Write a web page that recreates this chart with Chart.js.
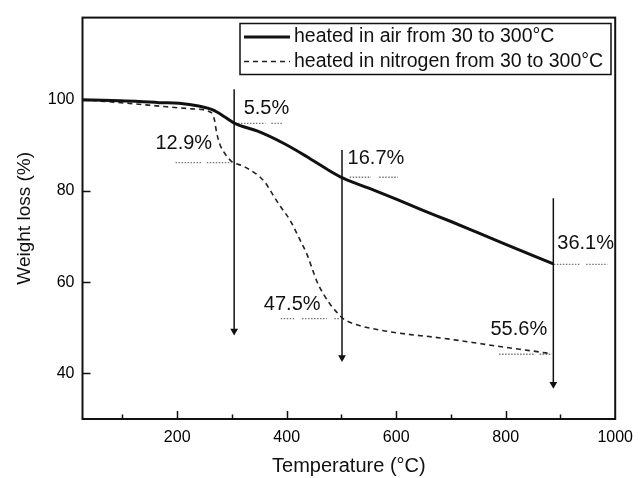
<!DOCTYPE html>
<html>
<head>
<meta charset="utf-8">
<script src="https://cdn.jsdelivr.net/npm/chart.js@4.4.1/dist/chart.umd.min.js"></script>
<style>
  html, body { margin: 0; padding: 0; background: #fff; }
  #wrap { width: 642px; height: 478px; }
</style>
</head>
<body>
<div id="wrap"><canvas id="chart" width="642" height="478"></canvas></div>
<script>
const airTemp = [27, 80, 130, 167, 203, 239, 266, 287, 305, 347, 395, 437, 473, 503, 550, 600, 650, 700, 750, 800, 850, 887];
const airWeight = [100, 99.8, 99.6, 99.35, 99.2, 98.6, 97.7, 96.2, 94.8, 93.1, 90.4, 87.5, 84.8, 82.8, 80.6, 78.2, 75.7, 73.3, 70.8, 68.3, 65.8, 64.0];

const n2Temp = [27, 80, 130, 167, 227, 262, 268, 272, 278, 287, 299, 323, 359, 371, 385, 407, 422, 437, 447, 455, 467, 479, 490, 503, 530, 575, 620, 665, 710, 755, 800, 850, 884];
const n2Weight = [100, 99.5, 99.0, 98.6, 98.0, 97.2, 95.6, 92.8, 90.2, 88.2, 86.5, 85.3, 82.1, 79.9, 77.2, 73.4, 69.8, 66.1, 62.8, 60.2, 57.4, 55.2, 53.6, 52.0, 50.6, 49.4, 48.6, 48.0, 47.3, 46.5, 45.7, 44.9, 44.3];

// vertical arrows (temperature, from, to)
const arrowTemp = [304, 501, 887];
const arrowTop = [102.3, 89.0, 78.4];
const arrowEnd = [49.3, 43.5, 37.6];

// dotted guide lines, each one split in short pieces
const guideLevel = [94.8, 86.2, 83.0, 52.0, 63.9, 44.2];
const guidePieces = [
  [[311, 361], [372, 392]],
  [[197, 245], [254, 299]],
  [[515, 554], [569, 603]],
  [[389, 414], [428, 473], [487, 496]],
  [[888, 935], [947, 986]],
  [[788, 854], [862, 884]]
];

const lossLabels = ["5.5%", "12.9%", "16.7%", "47.5%", "36.1%", "55.6%"];
const labelTemp = [363, 212, 563, 410, 946, 824];
const labelWeight = [98.0, 90.4, 87.1, 55.2, 68.5, 49.6];

const xTicks = [200, 400, 600, 800, 1000];
const xMinorTicks = [100, 300, 500, 700, 900];
const yTicks = [40, 60, 80, 100];

const legendNames = ["heated in air from 30 to 300\u00b0C", "heated in nitrogen from 30 to 300\u00b0C"];

const FONT = "'Liberation Sans', Arial, sans-serif";

function toPoints(xs, ys) {
  return xs.map((x, i) => ({ x: x, y: ys[i] }));
}

const arrowPoints = [];
arrowTemp.forEach((t, i) => {
  arrowPoints.push({ x: t, y: arrowTop[i] });
  arrowPoints.push({ x: t, y: arrowEnd[i], head: true });
  arrowPoints.push({ x: t, y: null });
});

const guidePoints = [];
guidePieces.forEach((pieces, i) => {
  pieces.forEach(([a, b]) => {
    guidePoints.push({ x: a, y: guideLevel[i] });
    guidePoints.push({ x: b, y: guideLevel[i] });
    guidePoints.push({ x: b, y: null });
  });
});

const frame = {
  id: "frame",
  afterDatasetsDraw(chart) {
    const { ctx, chartArea: a, scales } = chart;
    ctx.save();
    ctx.strokeStyle = "#111";
    ctx.lineWidth = 2;
    ctx.strokeRect(a.left, a.top, a.right - a.left, a.bottom - a.top);

    // inward ticks
    ctx.lineWidth = 1.5;
    ctx.beginPath();
    xTicks.concat(xMinorTicks).forEach((v) => {
      const px = Math.round(scales.x.getPixelForValue(v)) + 0.5;
      if (px >= a.right - 1) return;
      const len = xTicks.includes(v) ? 8 : 4.5;
      ctx.moveTo(px, a.bottom);
      ctx.lineTo(px, a.bottom - len);
    });
    yTicks.forEach((v) => {
      const py = Math.round(scales.y.getPixelForValue(v)) + 0.5;
      ctx.moveTo(a.left, py);
      ctx.lineTo(a.left + 8, py);
    });
    ctx.stroke();

    // percentage labels
    ctx.fillStyle = "#111";
    ctx.font = "20px " + FONT;
    ctx.textAlign = "center";
    ctx.textBaseline = "middle";
    lossLabels.forEach((txt, i) => {
      ctx.fillText(txt, scales.x.getPixelForValue(labelTemp[i]), scales.y.getPixelForValue(labelWeight[i]));
    });

    // legend box
    const lx = 240, ly = 23.5, lw = 371, lh = 51;
    ctx.fillStyle = "#fff";
    ctx.fillRect(lx, ly, lw, lh);
    ctx.lineWidth = 1.5;
    ctx.strokeRect(lx, ly, lw, lh);
    ctx.font = "19.5px " + FONT;
    chart.data.datasets.slice(0, 2).forEach((ds, i) => {
      const yy = ly + 13.5 + i * 24.5;
      ctx.beginPath();
      ctx.strokeStyle = ds.borderColor;
      ctx.lineWidth = ds.borderWidth;
      ctx.setLineDash(ds.borderDash || []);
      ctx.moveTo(lx + 4, yy);
      ctx.lineTo(lx + 50, yy);
      ctx.stroke();
      ctx.setLineDash([]);
      ctx.fillStyle = "#111";
      ctx.textAlign = "left";
      ctx.fillText(legendNames[i], lx + 54, yy);
    });
    ctx.restore();
  }
};

new Chart(document.getElementById("chart"), {
  type: "line",
  data: {
    datasets: [
      {
        label: legendNames[0],
        data: toPoints(airTemp, airWeight),
        borderColor: "#111",
        borderWidth: 3,
        pointRadius: 0,
        cubicInterpolationMode: "monotone"
      },
      {
        label: legendNames[1],
        data: toPoints(n2Temp, n2Weight),
        borderColor: "#222",
        borderWidth: 1.6,
        borderDash: [5, 4],
        pointRadius: 0,
        cubicInterpolationMode: "monotone"
      },
      {
        label: "arrows",
        data: arrowPoints,
        borderColor: "#111",
        backgroundColor: "#111",
        borderWidth: 1.5,
        spanGaps: false,
        pointStyle: "triangle",
        rotation: 180,
        pointRadius: (c) => (c.raw && c.raw.head ? 4.5 : 0),
        pointBorderWidth: 0
      },
      {
        label: "guides",
        data: guidePoints,
        borderColor: "#777",
        borderWidth: 1.3,
        borderDash: [1.5, 1.5],
        spanGaps: false,
        pointRadius: 0
      }
    ]
  },
  options: {
    responsive: false,
    animation: false,
    devicePixelRatio: 1,
    layout: { padding: { top: 14, right: 20, left: 0, bottom: 0 } },
    plugins: { legend: { display: false }, tooltip: { enabled: false } },
    scales: {
      x: {
        type: "linear",
        min: 27,
        max: 1000,
        afterBuildTicks: (s) => { s.ticks = xTicks.map((v) => ({ value: v })); },
        afterFit: (s) => { s.height = 59; },
        grid: { display: false, drawTicks: false },
        border: { display: false },
        ticks: { color: "#000", font: { family: FONT, size: 16 }, padding: 9, maxRotation: 0, callback: (v) => String(v) },
        title: { display: true, text: "Temperature (\u00b0C)", color: "#111", font: { family: FONT, size: 20 }, padding: { top: 0, bottom: 0 } }
      },
      y: {
        min: 30,
        max: 118,
        afterBuildTicks: (s) => { s.ticks = yTicks.map((v) => ({ value: v })); },
        afterFit: (s) => { s.width = 82.5; },
        grid: { display: false, drawTicks: false },
        border: { display: false },
        ticks: { color: "#000", font: { family: FONT, size: 16 }, padding: 8, callback: (v) => String(v) },
        title: { display: true, text: "Weight loss (%)", color: "#111", font: { family: FONT, size: 19 }, padding: { top: 13, bottom: 0 } }
      }
    }
  },
  plugins: [frame]
});
</script>
</body>
</html>
